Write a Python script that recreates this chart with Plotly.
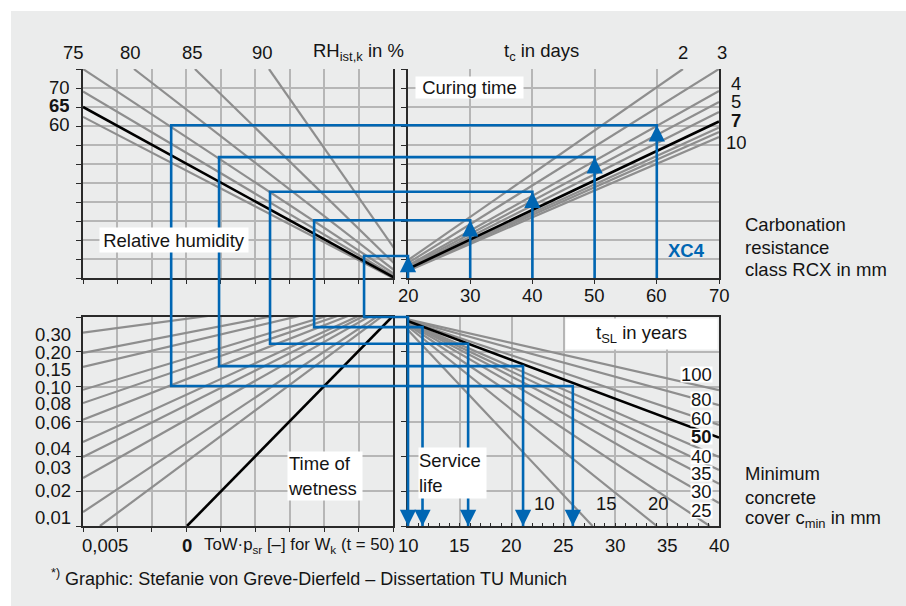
import plotly.graph_objects as go

W, H = 906, 606
FONT = "Liberation Sans, Arial, sans-serif"
FS = 18.5
TXT = "#141414"
BLUE = "#0066b3"
GRAY = "#8e8e8e"
BLACK = "#000000"
GRID = "#b6b6b6"
AXC = "#2a2a2a"
BG = "#ebecec"

# ---------------- data ----------------
# top-left: relative humidity lines (x: grid units 0..9, y: RCX 20..75)
rh_labels = ["75", "80", "85", "90", "70", "65", "60"]
rh_start_x = [0.0, 1.48, 3.25, 5.40, 0.0, 0.0, 0.0]
rh_start_y = [75.0, 75.0, 75.0, 75.0, 69.1, 65.0, 62.4]
rh_focus = [10.0, 15.3]
rh_bold = "65"

# top-right: curing time lines (x: RCX 20..70, y: 20..75)
tc_labels = ["2", "3", "4", "5", "6", "7", "8", "9", "10"]
tc_end_x = [64.2, 70, 70, 70, 70, 70, 70, 70, 70]
tc_end_y = [75.0, 75.0, 69.2, 66.3, 63.7, 61.2, 59.6, 58.4, 57.1]
tc_focus = [13.57, 17.37]
tc_bold = "7"

# bottom-left: time of wetness lines (x: grid units 0..9, y: grid units 0..6)
tow_labels = ["0,30", "0,20", "0,15", "0,10", "0,08", "0,06", "0,04", "0,03",
              "0,02", "0,01", "0,005", "0"]
tow_start_x = [0, 0, 0, 0, 0, 0, 0, 0, 0, 0, 0.49, 3.02]
tow_start_y = [5.55, 4.97, 4.57, 3.91, 3.53, 3.05, 2.41, 1.98, 1.38, 0.40, 0, 0]
tow_focus = [9.81, 6.85]
tow_bold = "0"

# bottom-right: service life lines (x: c_min 10..40, y: grid units 0..6)
tsl_labels = ["100", "80", "60", "50", "40", "35", "30", "25", "20", "15", "10"]
tsl_end_x = [40, 40, 40, 40, 40, 40, 40, 40, 39.1, 34.0, 27.8]
tsl_end_y = [3.90, 3.47, 2.90, 2.54, 1.98, 1.61, 1.21, 0.66, 0, 0, 0]
tsl_focus = [8.75, 6.02]
tsl_bold = "50"

# worked examples (blue paths)
ex_rcx = [20, 30, 40, 50, 60]
ex_level = [25.8, 35.2, 42.7, 51.8, 60.2]
ex_rh_x = [8.16, 6.71, 5.43, 3.95, 2.56]
ex_tow_y = [6.0, 5.71, 5.23, 4.59, 4.02]
ex_cmin = [10.0, 11.4, 15.8, 21.1, 25.9]

# axis tick labels
x2_ticks = [20, 30, 40, 50, 60, 70]
x4_ticks = [10, 15, 20, 25, 30, 35, 40]

# ---------------- layout helpers ----------------
COLS = {"L": (83, 393), "R": (408, 719)}
ROWS = {"T": (69, 278), "B": (317, 526)}


def xdom(c):
    a, b = COLS[c]
    return [a / W, b / W]


def ydom(r):
    a, b = ROWS[r]
    return [1 - b / H, 1 - a / H]


RANGES = {"x": [0, 9], "y": [20, 75], "x2": [20, 70], "y2": [20, 75],
          "x3": [0, 9], "y3": [0, 6], "x4": [10, 40], "y4": [0, 6]}
DOMS = {"x": xdom("L"), "y": ydom("T"), "x2": xdom("R"), "y2": ydom("T"),
        "x3": xdom("L"), "y3": ydom("B"), "x4": xdom("R"), "y4": ydom("B")}


def paper(ax, v):
    r, d = RANGES[ax], DOMS[ax]
    return d[0] + (v - r[0]) / (r[1] - r[0]) * (d[1] - d[0])


fig = go.Figure()


def fan(xs, ys, focus, xa, ya, labels, bold):
    order = sorted(range(len(labels)), key=lambda i: labels[i] == bold)
    for i in order:
        isb = labels[i] == bold
        fig.add_trace(go.Scatter(
            x=[xs[i], focus[0]], y=[ys[i], focus[1]], mode="lines",
            line=dict(color=BLACK if isb else GRAY, width=2.6 if isb else 2.2),
            xaxis=xa, yaxis=ya, hoverinfo="skip", showlegend=False))


fan(rh_start_x, rh_start_y, rh_focus, "x", "y", rh_labels, rh_bold)
fan(tc_end_x, tc_end_y, tc_focus, "x2", "y2", tc_labels, tc_bold)
fan(tow_start_x, tow_start_y, tow_focus, "x3", "y3", tow_labels, tow_bold)
fan(tsl_end_x, tsl_end_y, tsl_focus, "x4", "y4", tsl_labels, tsl_bold)


def axis(ax, dtick, anchor, **kw):
    d = dict(domain=DOMS[ax], range=RANGES[ax], tick0=RANGES[ax][0], dtick=dtick,
             anchor=anchor, showgrid=True, gridcolor=GRID, gridwidth=1.5,
             zeroline=False, showline=True, linecolor=AXC, linewidth=1.6,
             showticklabels=False, ticks="outside", ticklen=4, tickcolor=AXC,
             tickwidth=1.2, fixedrange=True, automargin=False)
    d.update(kw)
    return d


fig.update_layout(
    xaxis=axis("x", 1, "y"),
    yaxis=axis("y", 5, "x", mirror=True, ticklen=5),
    xaxis2=axis("x2", 10, "y2"),
    yaxis2=axis("y2", 5, "x2", mirror=True, ticklen=5),
    xaxis3=axis("x3", 1, "y3", mirror=True),
    yaxis3=axis("y3", 1, "x3", mirror=True, ticklen=5),
    xaxis4=axis("x4", 5, "y4", mirror=True, ticks="inside", ticklen=3,
                minor=dict(dtick=1, ticks="inside", ticklen=3, tickcolor=AXC,
                           showgrid=False)),
    yaxis4=axis("y4", 1, "x4", mirror=True, ticklen=5),
)

shapes = [dict(type="rect", xref="paper", yref="paper", x0=11 / W, x1=1,
               y0=0, y1=1 - 11 / H, fillcolor=BG, line=dict(width=0), layer="below")]

# blue worked-example paths
for r, lv, hx, ty, cm in zip(ex_rcx, ex_level, ex_rh_x, ex_tow_y, ex_cmin):
    pts = [(paper("x2", r), paper("y2", RANGES["y2"][0])),
           (paper("x2", r), paper("y2", lv)),
           (paper("x", hx), paper("y", lv)),
           (paper("x3", hx), paper("y3", ty)),
           (paper("x4", cm), paper("y3", ty)),
           (paper("x4", cm), paper("y4", RANGES["y4"][0]))]
    path = "M" + " L".join(f"{px:.5f},{py:.5f}" for px, py in pts)
    shapes.append(dict(type="path", path=path, xref="paper", yref="paper",
                       line=dict(color=BLUE, width=2.6), layer="above"))
    fig.add_annotation(x=pts[1][0], y=pts[1][1], xref="paper", yref="paper",
                       ax=0, ay=16, showarrow=True, arrowhead=2, arrowsize=1.25,
                       arrowwidth=2.6, arrowcolor=BLUE, text="", standoff=0)
    fig.add_annotation(x=pts[5][0], y=pts[5][1], xref="paper", yref="paper",
                       ax=0, ay=-16, showarrow=True, arrowhead=2, arrowsize=1.25,
                       arrowwidth=2.6, arrowcolor=BLUE, text="", standoff=0)

fig.update_layout(shapes=shapes)


def txt(text, xpx, ypx, xanchor="center", size=FS, color=TXT, **kw):
    fig.add_annotation(text=text, x=xpx / W, y=1 - ypx / H, xref="paper",
                       yref="paper", xanchor=xanchor, yanchor="middle",
                       showarrow=False, font=dict(family=FONT, size=size, color=color),
                       **kw)


# panel titles with white boxes
txt("Relative humidity", 174, 240, bgcolor="white", width=148, height=24, borderpad=0)
txt("Curing time", 469.5, 87.5, bgcolor="white", width=107, height=21, borderpad=0)
txt("Time of<br>wetness", 325, 476, bgcolor="white", width=74, height=48,
    borderpad=0, align="left")
txt("Service<br>life", 452.5, 472.5, bgcolor="white", width=67, height=50,
    borderpad=0, align="left")
txt("t<sub>SL</sub> in years", 641, 334, bgcolor="white", width=151, height=30,
    borderpad=0, align="center")
txt("<b>XC4</b>", 686, 250, color=BLUE)

# top-left top labels (RH scale)
for lab, xp in zip(["75", "80", "85", "90"], [73.5, 130, 192, 262]):
    txt(lab, xp, 52)
txt("RH<sub>ist,k</sub> in %", 311, 52, xanchor="left")
# top-left left labels
for lab, yp in zip(["70", "<b>65</b>", "60"], [87, 105, 124]):
    txt(lab, 72, yp, xanchor="right", height=16)

# top-right labels
txt("t<sub>c</sub> in days", 502, 52, xanchor="left")
txt("2", 683, 52)
txt("3", 722, 52)
for lab, yp in zip(["4", "5", "<b>7</b>", "10"], [83, 101, 120, 142]):
    txt(lab, 736, yp, height=16)

# x2 axis labels (RCX)
for v in x2_ticks:
    fig.add_annotation(text=str(v), x=v, xref="x2", y=1 - 295 / H, yref="paper",
                       showarrow=False, yanchor="middle",
                       font=dict(family=FONT, size=FS, color=TXT))
# x4 axis labels (c_min)
for v in x4_ticks:
    fig.add_annotation(text=str(v), x=v, xref="x4", y=1 - 545 / H, yref="paper",
                       showarrow=False, yanchor="middle",
                       font=dict(family=FONT, size=FS, color=TXT))

# right side descriptions
for lab, yp in zip(["Carbonation", "resistance", "class RCX in mm"], [224, 247, 269]):
    txt(lab, 743, yp, xanchor="left")
for lab, yp in zip(["Minimum", "concrete", "cover c<sub>min</sub> in mm"], [473, 497, 519]):
    txt(lab, 743, yp, xanchor="left")

# bottom-left labels
for lab, yp in zip(tow_labels[:10], [334, 352, 370, 387, 403, 422, 448, 467, 490, 517]):
    txt(lab, 73, yp, xanchor="right", height=15)
txt("0,005", 80, 545, xanchor="left")
txt("<b>0</b>", 187, 545)
txt("ToW·p<sub>sr</sub> [–] for W<sub>k</sub> (t = 50)", 202, 545, xanchor="left",
    size=16.8)

# bottom-right labels
for lab, yp in zip(["100", "80", "60", "<b>50</b>", "40", "35", "30", "25"],
                   [374, 399, 418, 436, 456, 473, 491, 510]):
    txt(lab, 713, yp, xanchor="right", bgcolor="white", borderpad=0, height=15)
for lab, xp in zip(["10", "15", "20"], [544, 606, 658]):
    txt(lab, xp, 503)

# footnote
txt("<sup>*)</sup> Graphic: Stefanie von Greve-Dierfeld – Dissertation TU Munich",
    49, 577, xanchor="left", size=18)

fig.update_layout(width=W, height=H,
                  margin=dict(l=0, r=0, t=0, b=0, pad=0, autoexpand=False),
                  paper_bgcolor="white", plot_bgcolor="white", showlegend=False,
                  font=dict(family=FONT, size=FS, color=TXT))

fig.write_html(
    "out.html",
    config={"responsive": False, "displayModeBar": False},
    post_script="document.body.style.margin='0';document.body.style.overflow='hidden';",
)
